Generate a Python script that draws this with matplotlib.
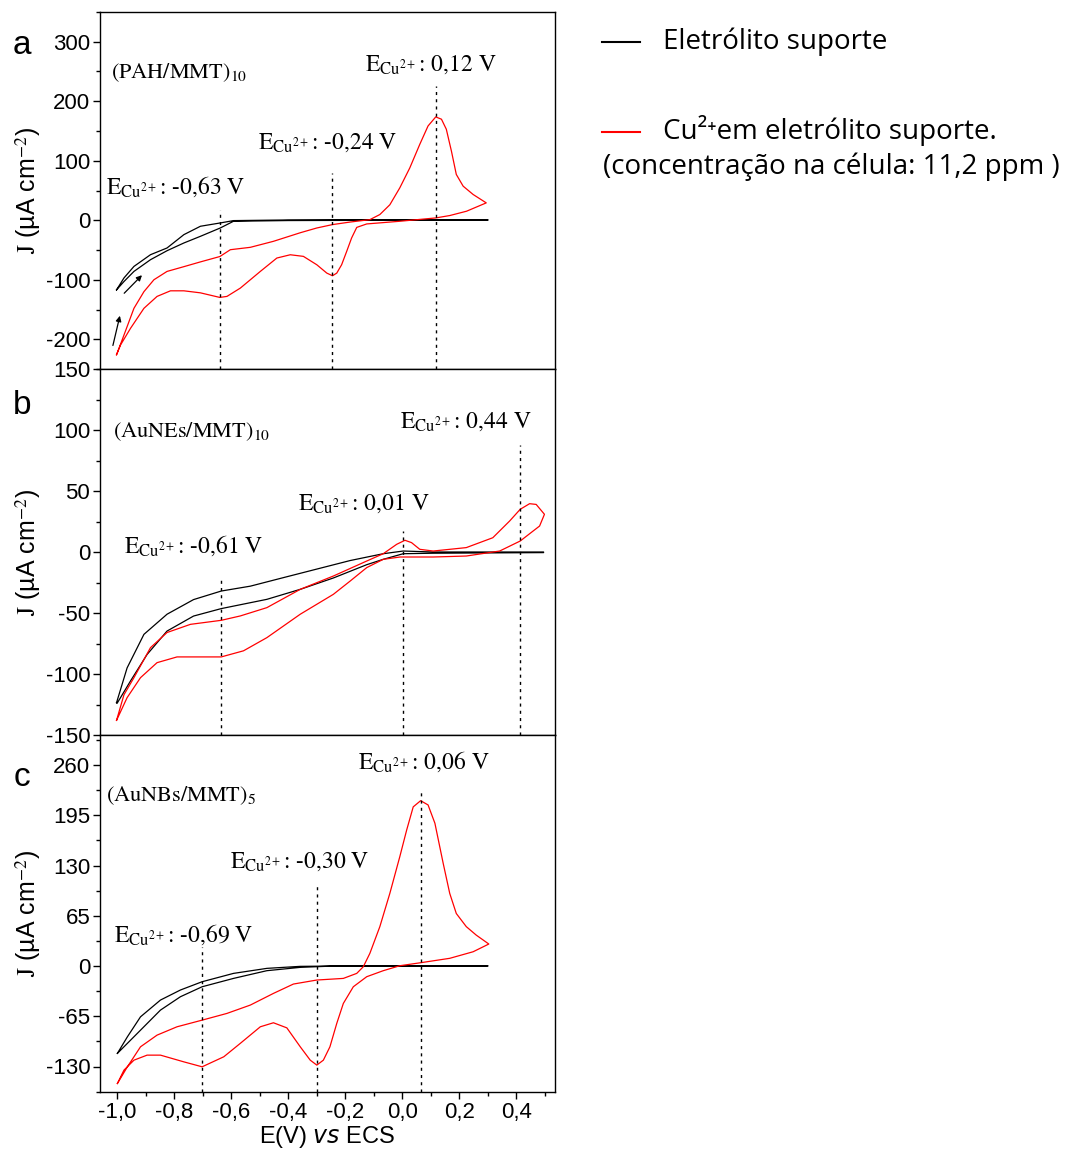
import matplotlib
matplotlib.use("Agg")
import matplotlib.pyplot as plt
from matplotlib.lines import Line2D
from matplotlib.ticker import MultipleLocator, FixedLocator

# Potential E (V vs ECS) and current density J (uA cm-2).
# Each loop = scan from -1.0 V towards positive, then back.

# panel a: (PAH/MMT)10
a_black_E = [-1.002, -0.976, -0.941, -0.883, -0.825, -0.766, -0.708, -0.638, -0.592, -0.40, 0.0, 0.30,
             0.30, 0.0, -0.40, -0.592, -0.638, -0.708, -0.766, -0.825, -0.883, -0.941, -0.976, -1.002]
a_black_J = [-117, -97, -77.6, -57.9, -46.6, -24.2, -10.1, -4.5, -0.6, 0.5, 1, 1,
             0, 0, -0.5, -1.7, -12.9, -27, -38.2, -51.2, -66.3, -86, -103, -117]
a_red_E = [-1.002, -0.976, -0.941, -0.906, -0.871, -0.825, -0.766, -0.708, -0.640, -0.603, -0.533,
           -0.452, -0.358, -0.300, -0.245, -0.183, -0.114, -0.079, -0.044, -0.009, 0.026, 0.061,
           0.090, 0.117, 0.137, 0.154, 0.172, 0.189, 0.213, 0.248, 0.294,
           0.225, 0.166, 0.117, -0.009, -0.125, -0.160, -0.178, -0.195, -0.213, -0.230, -0.245,
           -0.265, -0.300, -0.347, -0.393, -0.440, -0.498, -0.568, -0.615, -0.640, -0.708, -0.766,
           -0.813, -0.860, -0.906, -0.953, -0.988, -1.002]
a_red_J = [-226, -193, -148, -120, -100, -86, -78, -70, -61, -49.5, -45.5,
           -35.4, -21, -13, -7.3, -3, 1, 9.6, 26, 54.5, 88, 127.6,
           158.5, 173.7, 169.8, 153, 116, 77, 57.3, 43.3, 29.2,
           15.2, 7.9, 3.9, -1.7, -6.2, -12, -29.8, -52, -74.8, -88.8, -93.3,
           -88.8, -74.8, -60.7, -58, -63.5, -86, -114, -128, -129.7, -122, -118.6,
           -118.6, -128, -148, -181.6, -209.6, -226]

# panel b: (AuNEs/MMT)10
b_black_E = [-1.002, -0.965, -0.906, -0.825, -0.732, -0.635, -0.533, -0.417, -0.300, -0.183, -0.067,
             0.003, 0.108, 0.495,
             0.495, 0.108, 0.003, -0.067, -0.125, -0.242, -0.358, -0.475, -0.635, -0.732, -0.825,
             -0.895, -0.953, -1.0, -1.002]
b_black_J = [-123.5, -95, -67.5, -51, -39, -32, -28, -21, -14, -7, -1.4,
             0.8, 0, 0,
             -0.5, -1, -1.4, -6, -10.4, -21.3, -30.6, -38.8, -46.4, -52.5, -64.8,
             -84, -105.7, -124, -123.5]
b_red_E = [-1.002, -0.976, -0.941, -0.883, -0.825, -0.743, -0.635, -0.568, -0.475, -0.358, -0.242,
           -0.125, -0.067, -0.020, 0.009, 0.032, 0.061, 0.108, 0.224, 0.317, 0.376, 0.413, 0.446,
           0.469, 0.498,
           0.481, 0.413, 0.341, 0.224, 0.108, -0.008, -0.067, -0.125, -0.183, -0.242, -0.358, -0.475,
           -0.557, -0.635, -0.708, -0.790, -0.860, -0.918, -0.965, -1.002]
b_red_J = [-138, -117, -103, -78.4, -66, -59.3, -56, -52.4, -45.6, -30.6, -19.7,
           -7.4, -1.4, 6.3, 9.6, 7.7, 2.2, 0.8, 3.6, 11.7, 25.4, 35, 39.6,
           39, 30.9,
           21.3, 9, 0.8, -3.3, -4.1, -4.1, -6, -12.8, -23.8, -34.7, -51, -70.2,
           -81, -86, -86, -86, -90.7, -103, -119.4, -138]

# panel c: (AuNBs/MMT)5
c_black_E = [-0.999, -0.964, -0.918, -0.848, -0.778, -0.702, -0.592, -0.475, -0.358, -0.242, 0.30,
             0.30, -0.242, -0.358, -0.475, -0.592, -0.702, -0.778, -0.848, -0.918, -0.976, -0.999]
c_black_J = [-113, -91.6, -65.7, -44, -31, -20.3, -9.5, -3, -0.4, 0, 0.4,
             0, 0, -1.7, -6, -16, -26.8, -39.7, -57, -83, -104.5, -113]
c_red_E = [-0.999, -0.964, -0.918, -0.860, -0.790, -0.702, -0.615, -0.533, -0.452, -0.382, -0.300,
           -0.207, -0.160, -0.137, -0.114, -0.079, -0.044, -0.009, 0.015, 0.038, 0.064, 0.090,
           0.114, 0.143, 0.166, 0.189, 0.224, 0.259, 0.303,
           0.248, 0.166, 0.064, -0.009, -0.067, -0.125, -0.172, -0.207, -0.230, -0.254, -0.277,
           -0.300, -0.323, -0.358, -0.405, -0.452, -0.498, -0.568, -0.626, -0.702, -0.766, -0.848,
           -0.895, -0.941, -0.976, -0.999]
c_red_J = [-152, -130.4, -104.5, -89.4, -78.6, -70, -61.3, -50.5, -35.4, -23.3, -18.1,
           -16, -9.5, -0.9, 16.4, 51, 94, 141.6, 176, 206, 214, 208.5,
           184.8, 133, 94, 68, 51, 40, 28.5,
           18.5, 10, 4.3, 0.4, -6, -13.8, -26.8, -48.4, -74.2, -104.5, -121.8,
           -128.2, -121.8, -104.5, -80, -73.4, -78.6, -100, -117.4, -130.4, -124, -115.3,
           -115.3, -121.8, -134.7, -152]

# peak potentials (dashed markers), top of each marker, and labels
a_peaks = [-0.64, -0.245, 0.117]
a_peak_tops = [18, 79, 226]
a_peak_labels = ["-0,63 V", "-0,24 V", "0,12 V"]
a_label_pos = [(-1.04, 57), (-0.505, 130), (-0.131, 261)]

b_peaks = [-0.635, 0.003, 0.413]
b_peak_tops = [-21, 17, 88]
b_peak_labels = ["-0,61 V", "0,01 V", "0,44 V"]
b_label_pos = [(-0.977, 5), (-0.365, 40), (-0.009, 107)]

c_peaks = [-0.702, -0.298, 0.067]
c_peak_tops = [25, 105, 228]
c_peak_labels = ["-0,69 V", "-0,30 V", "0,06 V"]
c_label_pos = [(-1.012, 40), (-0.603, 135), (-0.156, 264)]

films = ["(PAH/MMT)$_{10}$", "(AuNEs/MMT)$_{10}$", "(AuNBs/MMT)$_{5}$"]
film_pos = [(-1.023, 248), (-1.016, 99), (-1.04, 221)]
panel_letters = ["a", "b", "c"]

a_yticks = [-200, -100, 0, 100, 200, 300]
b_yticks = [-150, -100, -50, 0, 50, 100, 150]
c_yticks = [-130, -65, 0, 65, 130, 195, 260]
x_ticks = [-1.0, -0.8, -0.6, -0.4, -0.2, 0.0, 0.2, 0.4]
x_ticklabels = ["-1,0", "-0,8", "-0,6", "-0,4", "-0,2", "0,0", "0,2", "0,4"]

plt.rcParams['font.family'] = ['Liberation Sans', 'DejaVu Sans']
plt.rcParams['axes.unicode_minus'] = False
plt.rcParams['xtick.direction'] = 'out'
plt.rcParams['ytick.direction'] = 'out'

fig = plt.figure(figsize=(10.7, 11.52), dpi=100)
H = 1152.0
W = 1070.0
left = 100 / W
width = 455 / W
ax_a = fig.add_axes([left, 1 - 369 / H, width, 357 / H])
ax_b = fig.add_axes([left, 1 - 735 / H, width, 366 / H], sharex=ax_a)
ax_c = fig.add_axes([left, 1 - 1092 / H, width, 357 / H], sharex=ax_a)

panels = [
    (ax_a, a_black_E, a_black_J, a_red_E, a_red_J, a_peaks, a_peak_tops, a_peak_labels, a_label_pos,
     a_yticks, (-250, 350), 50),
    (ax_b, b_black_E, b_black_J, b_red_E, b_red_J, b_peaks, b_peak_tops, b_peak_labels, b_label_pos,
     b_yticks, (-150, 150), 25),
    (ax_c, c_black_E, c_black_J, c_red_E, c_red_J, c_peaks, c_peak_tops, c_peak_labels, c_label_pos,
     c_yticks, (-163, 299), 32.5),
]

for i, (ax, kE, kJ, rE, rJ, peaks, tops, plabels, lpos, yt, ylim, minor) in enumerate(panels):
    ax.plot(kE, kJ, color='black', lw=0.9)
    ax.plot(rE, rJ, color='#ff0000', lw=0.9)
    for p, t in zip(peaks, tops):
        ax.plot([p, p], [ylim[0], t], color='black', lw=1.0, linestyle=(0, (2.2, 3)))
    for lab, (x, y) in zip(plabels, lpos):
        ax.text(x, y, r'E$_{\mathrm{Cu}^{2+}}$: ' + lab, fontsize=17, family='STIXGeneral',
                math_fontfamily='stix', va='center', ha='left')
    ax.text(film_pos[i][0], film_pos[i][1], films[i], fontsize=16, family='STIXGeneral',
            math_fontfamily='stix', va='center', ha='left')
    ax.set_ylim(*ylim)
    ax.yaxis.set_major_locator(FixedLocator(yt))
    ax.yaxis.set_minor_locator(MultipleLocator(minor))
    ax.set_ylabel(r'$\mathrm{J}$ (µA cm$^{-2}$)', fontsize=18, math_fontfamily='stix', labelpad=2)
    ax.tick_params(axis='both', which='major', labelsize=16, length=5, width=1, pad=2)
    ax.tick_params(axis='both', which='minor', length=3, width=1)
    ax.tick_params(top=False, right=False)
    for s in ax.spines.values():
        s.set_linewidth(1.0)
    fig.text(22 / W, 1 - [45, 405, 778][i] / H, panel_letters[i], fontsize=24,
             ha='center', va='center')

ax_a.set_xlim(-1.06, 0.535)
ax_c.xaxis.set_major_locator(FixedLocator(x_ticks))
ax_c.set_xticklabels(x_ticklabels)
ax_c.xaxis.set_minor_locator(MultipleLocator(0.1))
for ax in (ax_a, ax_b):
    ax.tick_params(axis='x', labelbottom=False)
ax_c.set_xlabel(r'E(V) $\it{vs}$ ECS', fontsize=17, math_fontfamily='dejavusans', labelpad=1)

# scan direction arrows in panel a
ax_a.annotate('', xy=(-0.906, -89), xytext=(-0.982, -126),
              arrowprops=dict(arrowstyle='-|>', color='black', lw=0.9, mutation_scale=8))
ax_a.annotate('', xy=(-0.988, -156), xytext=(-1.017, -215),
              arrowprops=dict(arrowstyle='-|>', color='black', lw=0.9, mutation_scale=8))

# legend on the right
fig.add_artist(Line2D([602 / W, 640 / W], [1 - 42 / H, 1 - 42 / H], color='black', lw=1.5))
fig.add_artist(Line2D([602 / W, 640 / W], [1 - 132 / H, 1 - 132 / H], color='#ff0000', lw=1.5))
leg_font = ['Open Sans', 'DejaVu Sans']
fig.text(663 / W, 1 - 42 / H, 'Eletrólito suporte', fontsize=20, family=leg_font, va='center')
fig.text(663 / W, 1 - 130 / H, 'Cu²⁺em eletrólito suporte.', fontsize=20, family=leg_font,
         va='center')
fig.text(603 / W, 1 - 167 / H, '(concentração na célula: 11,2 ppm )', fontsize=20, family=leg_font,
         va='center')

fig.savefig('out.png', dpi=100)
